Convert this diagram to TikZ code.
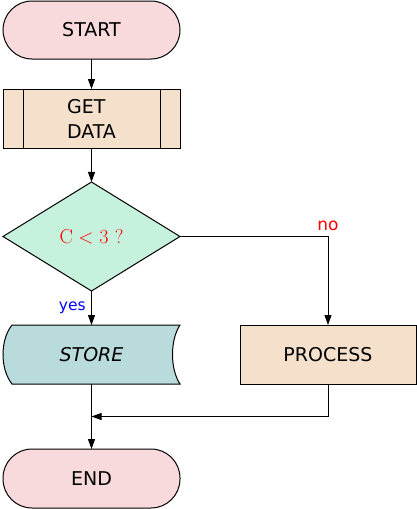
\documentclass[tikz,border=0pt]{standalone}
\usepackage{fix-cm}
\usepackage[no-math]{fontspec}
\setmainfont{DejaVu Sans}
\usetikzlibrary{positioning,shapes,arrows.meta,calc,backgrounds}
\definecolor{termpink}{RGB}{248,218,220}
\definecolor{peach}{RGB}{245,224,204}
\definecolor{mint}{RGB}{198,241,220}
\definecolor{storeteal}{RGB}{186,219,219}
\tikzset{
  base/.style={draw=black, line width=1pt, minimum width=177pt, minimum height=59pt,
    inner sep=0pt, outer sep=0pt, font=\fontsize{19}{25}\selectfont},
  terminal/.style={base, rounded corners=29pt, fill=termpink},
  predef/.style={base, fill=peach, align=left},
  decision/.style={base, diamond, fill=mint, minimum height=109pt, text=red,
    font=\fontsize{20}{25}\selectfont},
  storage/.style={base, draw=none, font=\fontsize{19}{25}\selectfont\itshape},
  process/.style={base, fill=peach, minimum width=176pt},
  flow/.style={line width=1pt, -{Triangle[length=10pt,width=7pt]}},
  answer/.style={font=\fontsize{16}{18}\selectfont}
}

\begin{document}
\begin{tikzpicture}[x=1pt, y=-1pt, node distance=30pt and 60pt]
    \useasboundingbox (0,0) rectangle (417,509);

    \node[terminal, minimum height=58pt] (start) at (91.5,30) {START};
    \node[predef, below=of start] (getdata) {GET\\DATA};
    \node[decision, below=34pt of getdata] (check) {$\mathrm{C} < 3\ ?$};
    \node[storage, below=34pt of check] (store) {STORE};
    \node[process, right=of store] (process) {PROCESS};
    \node[terminal, below=65pt of store] (end) {END};

    % side bars of the predefined process
    \draw[line width=1pt] ($(getdata.north west)+(20,0)$) -- ($(getdata.south west)+(20,0)$);
    \draw[line width=1pt] ($(getdata.north east)+(-20,0)$) -- ($(getdata.south east)+(-20,0)$);

    % stored data outline
    \begin{scope}[on background layer]
      \draw[line width=1pt, fill=storeteal] ($(store.north west)+(9,0)$) -- (store.north east)
        .. controls +(-10,15) and +(-10,-15) .. (store.south east)
        -- ($(store.south west)+(9,0)$)
        .. controls +(-12,-15) and +(-12,15) .. ($(store.north west)+(9,0)$) -- cycle;
    \end{scope}

    \draw[flow] (start) -- (getdata);
    \draw[flow] (getdata) -- (check);
    \draw[flow] (check) -- node[answer, left=2pt, pos=0.5, text=blue, font=\fontsize{15.5}{18}\selectfont] {yes} (store);
    \draw[flow] (check) -| node[answer, above=2pt, pos=0.5, text=red, font=\fontsize{17}{18}\selectfont] {no} (process);
    \draw[flow] (store) -- (end);
    \draw[flow] (process) |- ($(store.south)!0.5!(end.north)$);

  \end{tikzpicture}
\end{document}
